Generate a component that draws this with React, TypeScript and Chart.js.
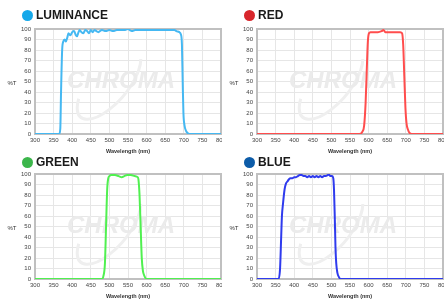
import React, { useEffect, useRef } from "react";
import { Chart, registerables } from "chart.js";

Chart.register(...registerables);

const FONT = '"Liberation Sans", Arial, Helvetica, sans-serif';

// Wavelength range / ticks
const X_MIN = 300;
const X_MAX = 800;
const X_STEP = 50;
const Y_MIN = 0;
const Y_MAX = 100;
const Y_STEP = 10;

// LUMINANCE
const luminanceNm = [300, 365, 368, 370, 373, 376, 380, 383, 387, 390, 395, 400, 405, 410, 413, 417, 420, 425, 430, 435, 440, 445, 450, 455, 460, 465, 470, 480, 490, 500, 510, 520, 530, 540, 550, 555, 560, 570, 580, 590, 600, 620, 640, 660, 675, 680, 688, 692, 695, 697, 699, 702, 706, 710, 715, 800];
const luminanceT = [0, 0, 5, 40, 80, 88, 90, 88, 92, 96, 94, 97, 98, 94, 93, 97, 99, 97, 96, 99, 98, 96, 99, 97, 99, 98, 97, 99, 98, 99, 98, 99, 99, 99, 100, 99, 98, 99, 99, 99, 99, 99, 99, 99, 99, 98, 97, 95, 85, 50, 20, 8, 3, 1, 0, 0];

// RED
const redNm = [300, 575, 583, 588, 592, 595, 598, 601, 605, 615, 625, 635, 640, 645, 655, 665, 675, 685, 690, 693, 696, 699, 702, 706, 710, 716, 800];
const redT = [0, 0, 2, 8, 30, 60, 88, 96, 97, 97, 97, 98, 99, 97, 97, 97, 97, 97, 96, 85, 55, 25, 10, 4, 1, 0, 0];

// GREEN
const greenNm = [300, 480, 484, 488, 491, 494, 497, 500, 505, 515, 525, 533, 540, 548, 558, 568, 576, 578, 581, 584, 587, 590, 594, 600, 800];
const greenT = [0, 0, 3, 15, 50, 85, 96, 98, 99, 99, 98, 97, 98, 99, 99, 98, 97, 95, 80, 50, 20, 8, 3, 0, 0];

// BLUE
const blueNm = [300, 358, 362, 365, 367, 370, 374, 378, 382, 386, 390, 395, 400, 405, 410, 415, 420, 425, 430, 435, 440, 445, 450, 455, 460, 465, 470, 475, 480, 485, 490, 493, 497, 502, 505, 507, 509, 511, 513, 516, 520, 525, 800];
const blueT = [0, 0, 10, 40, 60, 72, 85, 91, 93, 95, 96, 96, 97, 97, 98, 99, 99, 98, 98, 97, 98, 97, 98, 97, 98, 97, 98, 97, 98, 98, 99, 99.5, 98, 98, 96, 85, 60, 30, 15, 6, 2, 0, 0];

const PANEL_W = 222;
const PANEL_H = 157;
const AREA_TOP = 29;
const AREA_BOTTOM = 134;
const AREA_LEFT = 35;

const decorPlugin = {
  id: "decor",
  beforeDatasetsDraw(chart: any) {
    const { ctx, chartArea: a } = chart;
    ctx.save();
    const cx = (a.left + a.right) / 2 - 7;
    const cy = (a.top + a.bottom) / 2;
    // watermark swoosh
    ctx.strokeStyle = "#efefef";
    ctx.lineWidth = 3;
    ctx.beginPath();
    ctx.ellipse(cx - 12, cy + 2, 44, 19, -Math.PI / 3.6, 0.15 * Math.PI, 1.25 * Math.PI);
    ctx.stroke();
    // watermark text
    ctx.font = `italic bold 24px ${FONT}`;
    ctx.fillStyle = "#ebebeb";
    ctx.textAlign = "center";
    ctx.textBaseline = "middle";
    ctx.fillText("CHROMA", cx, cy);
    // border
    ctx.strokeStyle = "#c0c0c0";
    ctx.lineWidth = 2;
    ctx.strokeRect(a.left, a.top, a.right - a.left, a.bottom - a.top);
    // %T label
    ctx.font = `6px ${FONT}`;
    ctx.fillStyle = "#333";
    ctx.textAlign = "center";
    ctx.textBaseline = "middle";
    ctx.fillText("%T", 12, cy + 1.5);
    ctx.restore();
  },
};

type PanelProps = {
  left: number;
  top: number;
  titleY: number;
  title: string;
  dotColor: string;
  lineColor: string;
  nm: number[];
  t: number[];
};

function Panel({ left, top, titleY, title, dotColor, lineColor, nm, t }: PanelProps) {
  const ref = useRef<HTMLCanvasElement>(null);
  useEffect(() => {
    const chart = new Chart(ref.current as HTMLCanvasElement, {
      type: "line",
      data: {
        datasets: [
          {
            data: nm.map((x, i) => ({ x, y: t[i] })),
            borderColor: lineColor,
            borderWidth: 2,
            pointRadius: 0,
            fill: false,
            cubicInterpolationMode: "monotone",
          },
        ],
      },
      options: {
        animation: false,
        responsive: false,
        maintainAspectRatio: false,
        layout: { padding: { top: AREA_TOP, right: 1, left: 0, bottom: 0 } },
        plugins: {
          legend: { display: false },
          tooltip: { enabled: false },
          title: { display: false },
        },
        scales: {
          x: {
            type: "linear",
            min: X_MIN,
            max: X_MAX,
            ticks: {
              stepSize: X_STEP,
              autoSkip: false,
              maxRotation: 0,
              padding: 3,
              color: "#444",
              font: { size: 6, family: FONT },
            },
            grid: { color: "#e6e6e6", lineWidth: 1, drawTicks: false },
            border: { display: false },
            title: {
              display: true,
              text: "Wavelength (nm)",
              color: "#333",
              font: { size: 5.5, weight: "bold", family: FONT },
              padding: { top: 0, bottom: 2 },
            },
            afterFit: (s: any) => {
              s.height = PANEL_H - AREA_BOTTOM;
              s.paddingLeft = 0;
              s.paddingRight = 0;
            },
          },
          y: {
            min: Y_MIN,
            max: Y_MAX,
            ticks: {
              stepSize: Y_STEP,
              padding: 4,
              color: "#444",
              font: { size: 6, family: FONT },
            },
            grid: { color: "#e6e6e6", lineWidth: 1, drawTicks: false },
            border: { display: false },
            afterFit: (s: any) => {
              s.width = AREA_LEFT;
              s.paddingTop = 0;
              s.paddingBottom = 0;
            },
          },
        },
      } as any,
      plugins: [decorPlugin],
    });
    return () => chart.destroy();
  }, []);

  return (
    <div style={{ position: "absolute", left, top, width: PANEL_W, height: PANEL_H }}>
      <canvas
        ref={ref}
        width={PANEL_W}
        height={PANEL_H}
        style={{ position: "absolute", left: 0, top: 0, width: PANEL_W, height: PANEL_H }}
      />
      <div
        style={{
          position: "absolute",
          left: 22,
          top: titleY - 5.5,
          width: 11,
          height: 11,
          borderRadius: "50%",
          background: dotColor,
        }}
      />
      <div
        style={{
          position: "absolute",
          left: 36,
          top: titleY - 8,
          height: 16,
          lineHeight: "16px",
          fontFamily: FONT,
          fontWeight: "bold",
          fontSize: 12,
          color: "#1a1a1a",
          whiteSpace: "nowrap",
        }}
      >
        {title}
      </div>
    </div>
  );
}

export default function App() {
  return (
    <div
      style={{
        position: "fixed",
        left: 0,
        top: 0,
        width: 444,
        height: 301,
        overflow: "hidden",
        background: "#ffffff",
      }}
    >
      <Panel left={0} top={0} titleY={15} title="LUMINANCE" dotColor="#14a8ea" lineColor="#45b8f2" nm={luminanceNm} t={luminanceT} />
      <Panel left={222} top={0} titleY={15} title="RED" dotColor="#d8262c" lineColor="#ff4d4d" nm={redNm} t={redT} />
      <Panel left={0} top={145} titleY={17} title="GREEN" dotColor="#3cb64b" lineColor="#50f050" nm={greenNm} t={greenT} />
      <Panel left={222} top={145} titleY={17} title="BLUE" dotColor="#0c5ca8" lineColor="#2f3bee" nm={blueNm} t={blueT} />
    </div>
  );
}
